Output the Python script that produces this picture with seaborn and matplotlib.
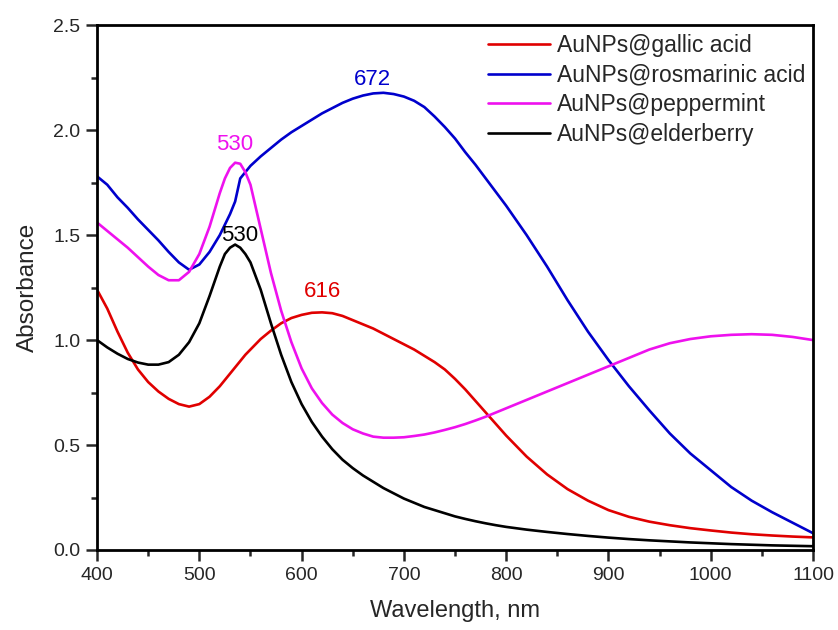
import numpy as np
import pandas as pd
import seaborn as sns
import matplotlib.pyplot as plt
from matplotlib.ticker import MultipleLocator

# Lungimi de unda (nm)
lungimi_unda = [400, 410, 420, 430, 440, 450, 460, 470, 480, 490, 500, 510, 520, 525, 530, 535,
                540, 545, 550, 560, 570, 580, 590, 600, 610, 620, 630, 640, 650, 660, 670, 680,
                690, 700, 710, 720, 730, 740, 750, 760, 770, 780, 790, 800, 820, 840, 860, 880,
                900, 920, 940, 960, 980, 1000, 1020, 1040, 1060, 1080, 1100]

# Absorbante
abs_galic = [1.24, 1.15, 1.04, 0.94, 0.86, 0.80, 0.755, 0.72, 0.695, 0.683, 0.695, 0.73, 0.78,
             0.81, 0.84, 0.87, 0.90, 0.93, 0.955, 1.005, 1.045, 1.08, 1.105, 1.12, 1.13, 1.132,
             1.128, 1.115, 1.095, 1.075, 1.055, 1.03, 1.005, 0.98, 0.955, 0.925, 0.895, 0.86,
             0.815, 0.765, 0.71, 0.655, 0.60, 0.545, 0.445, 0.36, 0.29, 0.235, 0.19, 0.158,
             0.135, 0.118, 0.104, 0.093, 0.083, 0.075, 0.069, 0.064, 0.06]
abs_rosmarinic = [1.78, 1.74, 1.68, 1.63, 1.575, 1.525, 1.475, 1.42, 1.37, 1.335, 1.36, 1.42,
                  1.50, 1.55, 1.60, 1.66, 1.77, 1.80, 1.83, 1.875, 1.915, 1.955, 1.99, 2.02,
                  2.05, 2.08, 2.105, 2.13, 2.15, 2.165, 2.175, 2.178, 2.172, 2.16, 2.14, 2.11,
                  2.065, 2.015, 1.96, 1.895, 1.835, 1.77, 1.705, 1.64, 1.50, 1.35, 1.19, 1.04,
                  0.905, 0.78, 0.665, 0.555, 0.46, 0.38, 0.30, 0.235, 0.18, 0.13, 0.08]
abs_menta = [1.56, 1.52, 1.48, 1.44, 1.395, 1.35, 1.31, 1.285, 1.285, 1.325, 1.41, 1.54, 1.70,
             1.77, 1.82, 1.845, 1.84, 1.80, 1.74, 1.53, 1.32, 1.14, 0.99, 0.865, 0.77, 0.70,
             0.645, 0.605, 0.575, 0.555, 0.54, 0.535, 0.535, 0.537, 0.543, 0.55, 0.56, 0.572,
             0.585, 0.60, 0.617, 0.635, 0.655, 0.675, 0.715, 0.755, 0.795, 0.835, 0.875, 0.915,
             0.955, 0.985, 1.005, 1.018, 1.025, 1.028, 1.025, 1.015, 1.00]
abs_soc = [1.00, 0.965, 0.935, 0.91, 0.893, 0.883, 0.883, 0.895, 0.93, 0.99, 1.08, 1.21, 1.35,
           1.41, 1.44, 1.455, 1.44, 1.41, 1.37, 1.24, 1.08, 0.93, 0.80, 0.695, 0.61, 0.54, 0.48,
           0.43, 0.39, 0.355, 0.325, 0.295, 0.27, 0.245, 0.225, 0.205, 0.19, 0.175, 0.16, 0.148,
           0.137, 0.127, 0.118, 0.11, 0.097, 0.086, 0.076, 0.067, 0.059, 0.052, 0.046, 0.041,
           0.036, 0.032, 0.028, 0.025, 0.022, 0.02, 0.018]

etichete = ['AuNPs@gallic acid', 'AuNPs@rosmarinic acid', 'AuNPs@peppermint', 'AuNPs@elderberry']
culori = ['#e00000', '#0000cc', '#ee11ee', '#000000']

# Maxime marcate pe grafic
maxime_text = ['616', '672', '530', '530']
maxime_x = [620, 669, 535, 539]
maxime_y = [1.23, 2.24, 1.93, 1.50]

date = pd.DataFrame({
    'Wavelength': lungimi_unda * 4,
    'Absorbance': abs_galic + abs_rosmarinic + abs_menta + abs_soc,
    'Proba': sum([[e] * len(lungimi_unda) for e in etichete], []),
})

sns.set_style('ticks')
plt.rcParams['font.family'] = ['Liberation Sans', 'DejaVu Sans']

fig = plt.figure(figsize=(8.38, 6.3), dpi=100)
ax = fig.add_axes([0.1158, 0.127, 0.8544, 0.833])

sns.lineplot(data=date, x='Wavelength', y='Absorbance', hue='Proba', hue_order=etichete,
             palette=dict(zip(etichete, culori)), linewidth=1.9, ax=ax)
for l in ax.get_lines():
    l.set_solid_joinstyle('round')

for t, x, y, c in zip(maxime_text, maxime_x, maxime_y, culori):
    ax.text(x, y, t, color=c, fontsize=16, ha='center', va='center')

ax.set_xlim(400, 1100)
ax.set_ylim(0, 2.5)
ax.xaxis.set_major_locator(MultipleLocator(100))
ax.xaxis.set_minor_locator(MultipleLocator(50))
ax.yaxis.set_major_locator(MultipleLocator(0.5))
ax.yaxis.set_minor_locator(MultipleLocator(0.25))
ax.yaxis.set_major_formatter(plt.FormatStrFormatter('%.1f'))
ax.tick_params(which='major', direction='out', length=8, width=1.8, labelsize=14, pad=4)
ax.tick_params(which='minor', direction='out', length=4.5, width=1.8)
for s in ax.spines.values():
    s.set_linewidth(2.0)
    s.set_color('black')

ax.set_xlabel('Wavelength, nm', fontsize=17, labelpad=12)
ax.set_ylabel('Absorbance', fontsize=17.5, labelpad=10)

ax.legend(loc='upper left', bbox_to_anchor=(0.527, 1.01), frameon=False, fontsize=16.5,
          handlelength=2.7, handletextpad=0.3, labelspacing=0.3, borderaxespad=0.2)

fig.savefig('out.png', dpi=100)
